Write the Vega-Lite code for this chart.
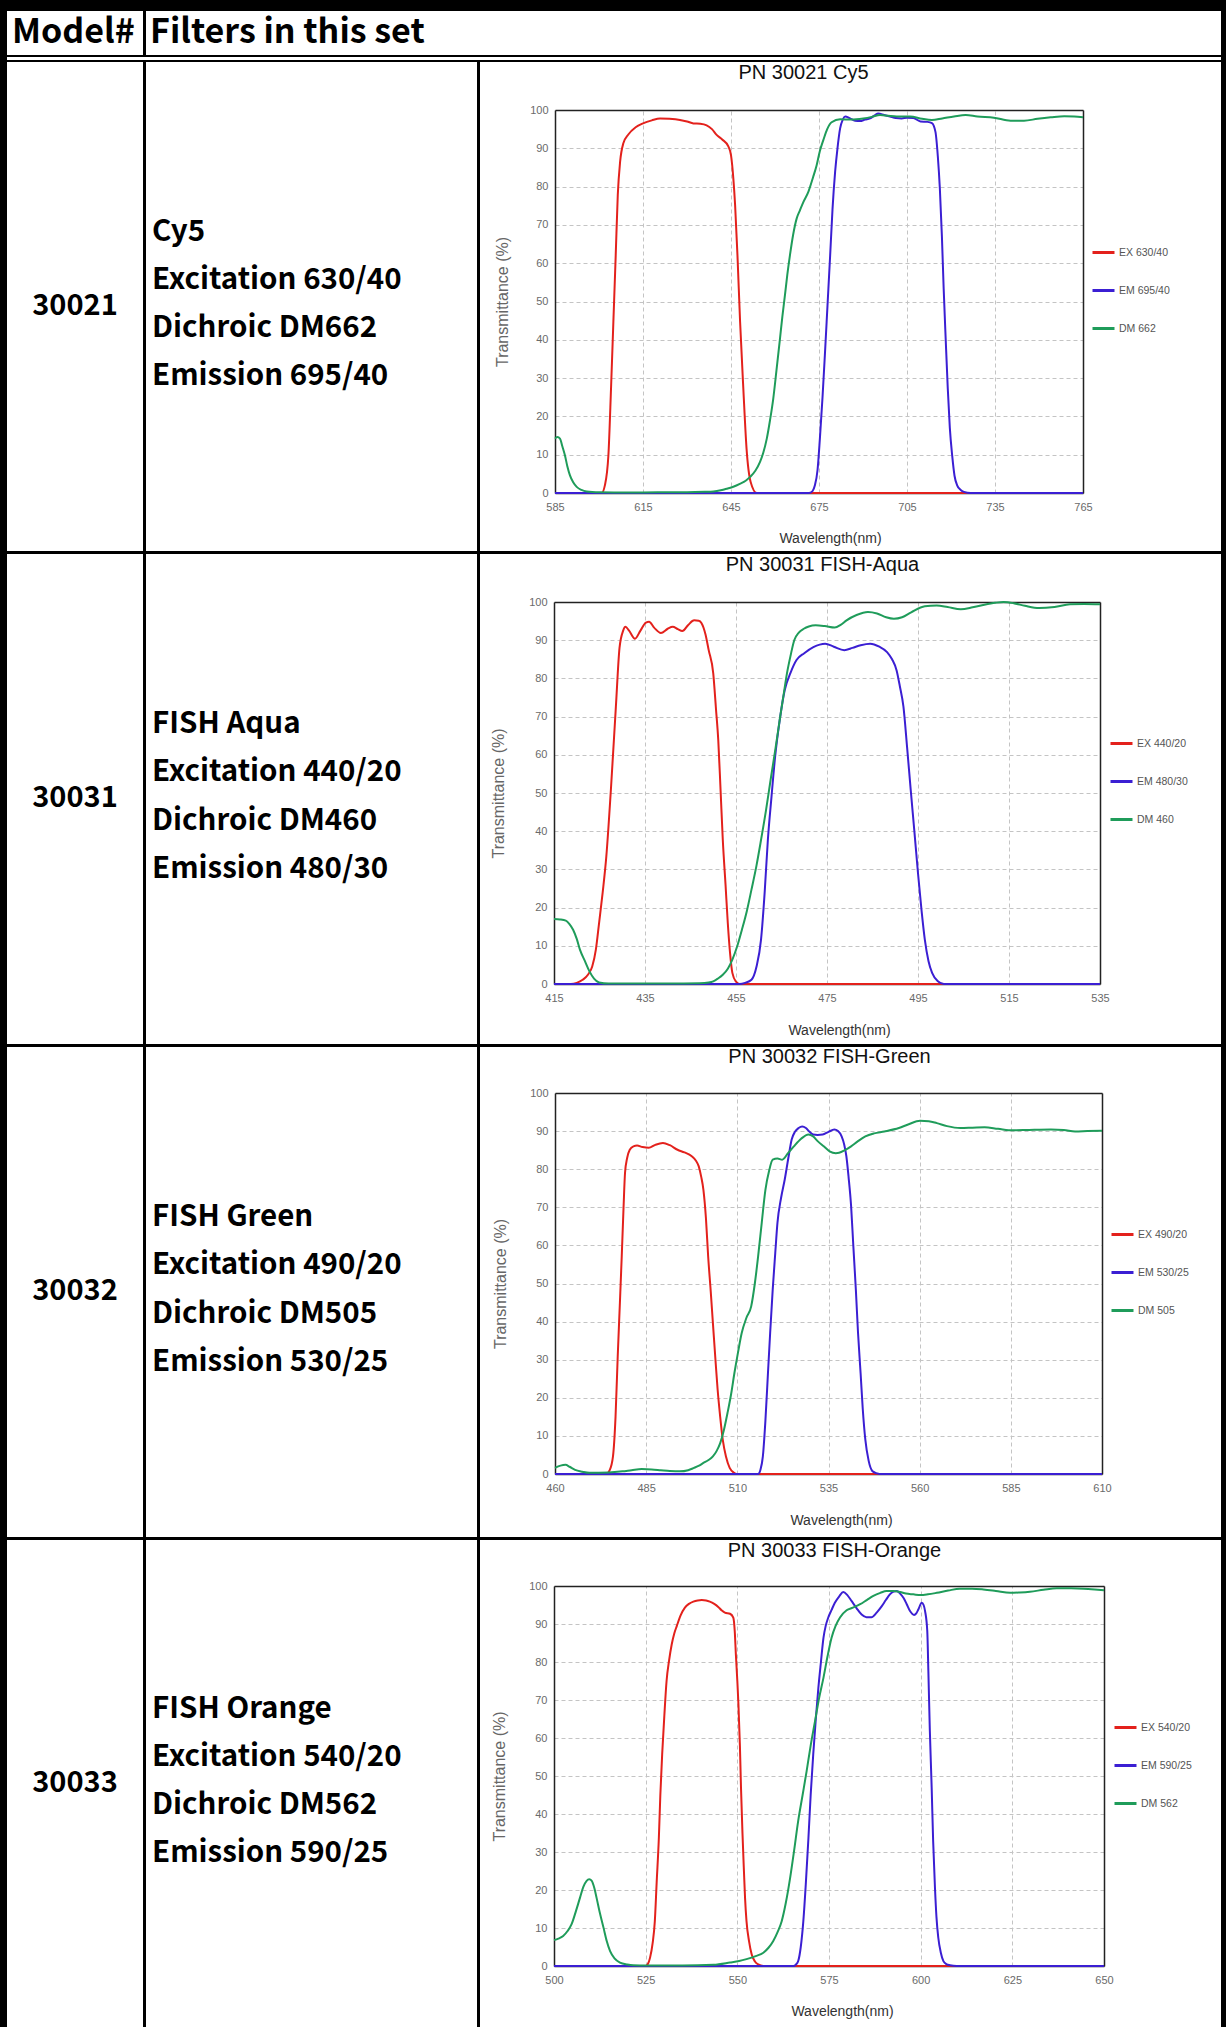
{
"$schema": "https://vega.github.io/schema/vega-lite/v6.json",
"background": "black",
"padding": {"left": 7, "top": 11, "right": 5, "bottom": 0},
"config": {
  "font": "Liberation Sans",
  "view": {"stroke": null},
  "axis": {"domainColor": "#222", "domainWidth": 1.5, "ticks": false, "tickSize": 0, "labelFont": "Liberation Sans", "labelFontSize": 11, "labelColor": "#6a6a6a", "gridColor": "#c4c4c4", "gridDash": [4, 3], "gridWidth": 1, "titleFont": "Liberation Sans", "titleFontWeight": "normal", "labelFlush": false, "labelOverlap": false},
  "title": {"font": "Liberation Sans", "fontSize": 20, "fontWeight": "normal", "color": "#111", "anchor": "middle", "frame": "group", "baseline": "middle"},
  "legend": {"orient": "none", "title": null, "symbolType": "stroke", "symbolSize": 484, "symbolStrokeWidth": 3, "labelFont": "Liberation Sans", "labelFontSize": 10.5, "labelColor": "#555", "labelOffset": 3, "rowPadding": 19, "padding": 0}
},
"datasets": {
"c1": [
{"s":"EX 630/40","wl":585,"t":0},{"s":"EX 630/40","wl":600.9,"t":0},{"s":"EX 630/40","wl":602,"t":2},{"s":"EX 630/40","wl":603.2,"t":9.8},{"s":"EX 630/40","wl":604.1,"t":27.3},{"s":"EX 630/40","wl":604.9,"t":44.7},{"s":"EX 630/40","wl":605.7,"t":62.1},{"s":"EX 630/40","wl":606.4,"t":77.8},{"s":"EX 630/40","wl":607.2,"t":86.5},{"s":"EX 630/40","wl":608.3,"t":91.3},{"s":"EX 630/40","wl":610,"t":93.6},{"s":"EX 630/40","wl":612.5,"t":95.5},{"s":"EX 630/40","wl":615,"t":96.5},{"s":"EX 630/40","wl":618,"t":97.3},{"s":"EX 630/40","wl":620.8,"t":97.8},{"s":"EX 630/40","wl":624,"t":97.7},{"s":"EX 630/40","wl":627.6,"t":97.4},{"s":"EX 630/40","wl":630,"t":97},{"s":"EX 630/40","wl":632.2,"t":96.5},{"s":"EX 630/40","wl":634.5,"t":96.4},{"s":"EX 630/40","wl":636.7,"t":96},{"s":"EX 630/40","wl":638.5,"t":95},{"s":"EX 630/40","wl":640.1,"t":93.5},{"s":"EX 630/40","wl":642,"t":92.3},{"s":"EX 630/40","wl":644.1,"t":90.5},{"s":"EX 630/40","wl":645,"t":88.2},{"s":"EX 630/40","wl":645.8,"t":82.1},{"s":"EX 630/40","wl":646.4,"t":75.2},{"s":"EX 630/40","wl":647.2,"t":62.1},{"s":"EX 630/40","wl":648.1,"t":44.7},{"s":"EX 630/40","wl":649.2,"t":27.3},{"s":"EX 630/40","wl":650.3,"t":11.6},{"s":"EX 630/40","wl":651.7,"t":2.9},{"s":"EX 630/40","wl":653.8,"t":0},{"s":"EX 630/40","wl":765,"t":0},
{"s":"EM 695/40","wl":585,"t":0},{"s":"EM 695/40","wl":671.5,"t":0},{"s":"EM 695/40","wl":672.8,"t":0.5},{"s":"EM 695/40","wl":673.6,"t":2},{"s":"EM 695/40","wl":674.5,"t":6},{"s":"EM 695/40","wl":675.3,"t":14.2},{"s":"EM 695/40","wl":676.2,"t":25},{"s":"EM 695/40","wl":677,"t":36},{"s":"EM 695/40","wl":677.9,"t":49},{"s":"EM 695/40","wl":678.8,"t":62},{"s":"EM 695/40","wl":679.6,"t":74},{"s":"EM 695/40","wl":680.5,"t":83.9},{"s":"EM 695/40","wl":681.3,"t":90},{"s":"EM 695/40","wl":682.2,"t":95.2},{"s":"EM 695/40","wl":683.1,"t":97.5},{"s":"EM 695/40","wl":683.9,"t":98.3},{"s":"EM 695/40","wl":685.6,"t":97.8},{"s":"EM 695/40","wl":687.3,"t":97.2},{"s":"EM 695/40","wl":689,"t":97.1},{"s":"EM 695/40","wl":690.7,"t":97.5},{"s":"EM 695/40","wl":692.4,"t":97.8},{"s":"EM 695/40","wl":694,"t":98.6},{"s":"EM 695/40","wl":695.2,"t":99.1},{"s":"EM 695/40","wl":697.2,"t":98.7},{"s":"EM 695/40","wl":699.2,"t":98.3},{"s":"EM 695/40","wl":701.2,"t":97.9},{"s":"EM 695/40","wl":703.2,"t":97.8},{"s":"EM 695/40","wl":705,"t":98},{"s":"EM 695/40","wl":707.2,"t":97.9},{"s":"EM 695/40","wl":709.6,"t":97},{"s":"EM 695/40","wl":712,"t":96.9},{"s":"EM 695/40","wl":713.5,"t":96.6},{"s":"EM 695/40","wl":714.7,"t":94.3},{"s":"EM 695/40","wl":715.5,"t":88},{"s":"EM 695/40","wl":716.2,"t":79.5},{"s":"EM 695/40","wl":716.9,"t":67},{"s":"EM 695/40","wl":717.5,"t":53.4},{"s":"EM 695/40","wl":718.2,"t":40},{"s":"EM 695/40","wl":718.9,"t":27.3},{"s":"EM 695/40","wl":719.6,"t":17},{"s":"EM 695/40","wl":720.4,"t":9.8},{"s":"EM 695/40","wl":721.2,"t":4.5},{"s":"EM 695/40","wl":722.1,"t":2},{"s":"EM 695/40","wl":723.3,"t":0.8},{"s":"EM 695/40","wl":724.4,"t":0.3},{"s":"EM 695/40","wl":726.7,"t":0},{"s":"EM 695/40","wl":765,"t":0},
{"s":"DM 662","wl":585,"t":14.2},{"s":"DM 662","wl":585.8,"t":14.6},{"s":"DM 662","wl":586.7,"t":14.2},{"s":"DM 662","wl":587.5,"t":12.2},{"s":"DM 662","wl":588.4,"t":9.8},{"s":"DM 662","wl":589.2,"t":7},{"s":"DM 662","wl":590.1,"t":4.6},{"s":"DM 662","wl":591.2,"t":2.8},{"s":"DM 662","wl":592.4,"t":1.6},{"s":"DM 662","wl":594,"t":0.8},{"s":"DM 662","wl":595.8,"t":0.4},{"s":"DM 662","wl":600.3,"t":0.2},{"s":"DM 662","wl":610,"t":0.1},{"s":"DM 662","wl":620,"t":0.2},{"s":"DM 662","wl":630,"t":0.2},{"s":"DM 662","wl":636,"t":0.3},{"s":"DM 662","wl":639,"t":0.4},{"s":"DM 662","wl":641.5,"t":0.7},{"s":"DM 662","wl":643.5,"t":1.1},{"s":"DM 662","wl":646,"t":1.7},{"s":"DM 662","wl":648,"t":2.4},{"s":"DM 662","wl":650,"t":3.2},{"s":"DM 662","wl":651.5,"t":4.2},{"s":"DM 662","wl":653.3,"t":5.8},{"s":"DM 662","wl":654.9,"t":8.1},{"s":"DM 662","wl":656,"t":10.5},{"s":"DM 662","wl":657.2,"t":14.2},{"s":"DM 662","wl":658.3,"t":19},{"s":"DM 662","wl":659.4,"t":24.6},{"s":"DM 662","wl":660.5,"t":32},{"s":"DM 662","wl":661.7,"t":40.3},{"s":"DM 662","wl":662.5,"t":46},{"s":"DM 662","wl":663.4,"t":51.7},{"s":"DM 662","wl":664.2,"t":57},{"s":"DM 662","wl":665.1,"t":62.1},{"s":"DM 662","wl":666.2,"t":67.5},{"s":"DM 662","wl":667.4,"t":71.7},{"s":"DM 662","wl":668.5,"t":73.8},{"s":"DM 662","wl":669.7,"t":76},{"s":"DM 662","wl":671.4,"t":78.7},{"s":"DM 662","wl":673,"t":82.5},{"s":"DM 662","wl":674.2,"t":85.6},{"s":"DM 662","wl":675.3,"t":89.3},{"s":"DM 662","wl":676.5,"t":92.2},{"s":"DM 662","wl":677.8,"t":95},{"s":"DM 662","wl":679.3,"t":96.8},{"s":"DM 662","wl":682.2,"t":97.6},{"s":"DM 662","wl":686,"t":97.5},{"s":"DM 662","wl":690.1,"t":97.8},{"s":"DM 662","wl":693,"t":98.2},{"s":"DM 662","wl":695.8,"t":98.7},{"s":"DM 662","wl":698.5,"t":98.5},{"s":"DM 662","wl":701.5,"t":98.3},{"s":"DM 662","wl":706.1,"t":98.3},{"s":"DM 662","wl":710.1,"t":97.7},{"s":"DM 662","wl":713.5,"t":97.4},{"s":"DM 662","wl":717,"t":97.8},{"s":"DM 662","wl":721,"t":98.3},{"s":"DM 662","wl":725,"t":98.7},{"s":"DM 662","wl":729,"t":98.3},{"s":"DM 662","wl":734.6,"t":98},{"s":"DM 662","wl":740.3,"t":97.2},{"s":"DM 662","wl":744.9,"t":97.2},{"s":"DM 662","wl":749.5,"t":97.7},{"s":"DM 662","wl":754,"t":98.1},{"s":"DM 662","wl":758.6,"t":98.4},{"s":"DM 662","wl":762,"t":98.3},{"s":"DM 662","wl":765,"t":98.1}
],
"c2": [
{"s":"EX 440/20","wl":415,"t":0},{"s":"EX 440/20","wl":418.7,"t":0},{"s":"EX 440/20","wl":420,"t":0.3},{"s":"EX 440/20","wl":421.3,"t":1.1},{"s":"EX 440/20","wl":422.5,"t":2.5},{"s":"EX 440/20","wl":423.4,"t":4.6},{"s":"EX 440/20","wl":424.2,"t":9},{"s":"EX 440/20","wl":424.9,"t":15.9},{"s":"EX 440/20","wl":425.7,"t":24},{"s":"EX 440/20","wl":426.5,"t":33.4},{"s":"EX 440/20","wl":427.5,"t":50.8},{"s":"EX 440/20","wl":428.6,"t":72.6},{"s":"EX 440/20","wl":429.4,"t":88},{"s":"EX 440/20","wl":430.2,"t":92.5},{"s":"EX 440/20","wl":430.7,"t":93.5},{"s":"EX 440/20","wl":431.5,"t":92.5},{"s":"EX 440/20","wl":432.8,"t":90.4},{"s":"EX 440/20","wl":434,"t":92.5},{"s":"EX 440/20","wl":435.2,"t":94.6},{"s":"EX 440/20","wl":435.9,"t":94.8},{"s":"EX 440/20","wl":437,"t":93.3},{"s":"EX 440/20","wl":438.5,"t":91.9},{"s":"EX 440/20","wl":440,"t":93},{"s":"EX 440/20","wl":441.1,"t":93.5},{"s":"EX 440/20","wl":442.2,"t":92.9},{"s":"EX 440/20","wl":443.2,"t":92.4},{"s":"EX 440/20","wl":444.5,"t":94},{"s":"EX 440/20","wl":445.8,"t":95.2},{"s":"EX 440/20","wl":446.8,"t":95.1},{"s":"EX 440/20","wl":447.4,"t":94.5},{"s":"EX 440/20","wl":448.3,"t":91.5},{"s":"EX 440/20","wl":449,"t":87.4},{"s":"EX 440/20","wl":450,"t":81.3},{"s":"EX 440/20","wl":450.6,"t":72},{"s":"EX 440/20","wl":451.1,"t":63.9},{"s":"EX 440/20","wl":451.6,"t":51},{"s":"EX 440/20","wl":452.1,"t":37.7},{"s":"EX 440/20","wl":452.7,"t":26},{"s":"EX 440/20","wl":453.2,"t":15.9},{"s":"EX 440/20","wl":453.7,"t":8},{"s":"EX 440/20","wl":454.2,"t":2.9},{"s":"EX 440/20","wl":455,"t":0.6},{"s":"EX 440/20","wl":455.8,"t":0},{"s":"EX 440/20","wl":535,"t":0},
{"s":"EM 480/30","wl":415,"t":0},{"s":"EM 480/30","wl":455.8,"t":0},{"s":"EM 480/30","wl":457,"t":0.3},{"s":"EM 480/30","wl":458.4,"t":1.1},{"s":"EM 480/30","wl":459.5,"t":4.5},{"s":"EM 480/30","wl":460.5,"t":11.6},{"s":"EM 480/30","wl":461.3,"t":24},{"s":"EM 480/30","wl":462,"t":37.7},{"s":"EM 480/30","wl":462.8,"t":49},{"s":"EM 480/30","wl":463.6,"t":59.5},{"s":"EM 480/30","wl":464.6,"t":69},{"s":"EM 480/30","wl":465.7,"t":76.9},{"s":"EM 480/30","wl":467,"t":81.5},{"s":"EM 480/30","wl":468.3,"t":84.8},{"s":"EM 480/30","wl":470,"t":86.6},{"s":"EM 480/30","wl":472,"t":88.2},{"s":"EM 480/30","wl":474.6,"t":89.1},{"s":"EM 480/30","wl":476.5,"t":88.3},{"s":"EM 480/30","wl":478.8,"t":87.4},{"s":"EM 480/30","wl":480.6,"t":88},{"s":"EM 480/30","wl":482.4,"t":88.7},{"s":"EM 480/30","wl":484.5,"t":89.1},{"s":"EM 480/30","wl":486.5,"t":88.3},{"s":"EM 480/30","wl":488.2,"t":86.9},{"s":"EM 480/30","wl":489.3,"t":85},{"s":"EM 480/30","wl":490.3,"t":82.1},{"s":"EM 480/30","wl":491,"t":78},{"s":"EM 480/30","wl":491.8,"t":72.6},{"s":"EM 480/30","wl":492.6,"t":62},{"s":"EM 480/30","wl":493.4,"t":50.8},{"s":"EM 480/30","wl":494.2,"t":40},{"s":"EM 480/30","wl":495,"t":29},{"s":"EM 480/30","wl":495.8,"t":19},{"s":"EM 480/30","wl":496.5,"t":11.6},{"s":"EM 480/30","wl":497.3,"t":6},{"s":"EM 480/30","wl":498.1,"t":2.9},{"s":"EM 480/30","wl":499.3,"t":0.8},{"s":"EM 480/30","wl":500.7,"t":0},{"s":"EM 480/30","wl":535,"t":0},
{"s":"DM 460","wl":415,"t":17},{"s":"DM 460","wl":416.3,"t":16.9},{"s":"DM 460","wl":417.6,"t":16.6},{"s":"DM 460","wl":418.4,"t":15.7},{"s":"DM 460","wl":419.2,"t":14.2},{"s":"DM 460","wl":420,"t":11.8},{"s":"DM 460","wl":420.7,"t":9},{"s":"DM 460","wl":421.8,"t":6},{"s":"DM 460","wl":422.8,"t":3.3},{"s":"DM 460","wl":423.8,"t":1.4},{"s":"DM 460","wl":424.9,"t":0.4},{"s":"DM 460","wl":427,"t":0.1},{"s":"DM 460","wl":440,"t":0.1},{"s":"DM 460","wl":447,"t":0.2},{"s":"DM 460","wl":449,"t":0.4},{"s":"DM 460","wl":450,"t":0.7},{"s":"DM 460","wl":451,"t":1.4},{"s":"DM 460","wl":452.1,"t":2.4},{"s":"DM 460","wl":453.2,"t":4},{"s":"DM 460","wl":454.2,"t":6.4},{"s":"DM 460","wl":455.3,"t":10},{"s":"DM 460","wl":456.3,"t":14.2},{"s":"DM 460","wl":457.4,"t":19.2},{"s":"DM 460","wl":458.4,"t":24.7},{"s":"DM 460","wl":459.5,"t":31},{"s":"DM 460","wl":460.5,"t":37.7},{"s":"DM 460","wl":461.6,"t":45.5},{"s":"DM 460","wl":462.6,"t":53.4},{"s":"DM 460","wl":463.7,"t":61.8},{"s":"DM 460","wl":464.7,"t":69.9},{"s":"DM 460","wl":465.5,"t":76},{"s":"DM 460","wl":466.2,"t":81.3},{"s":"DM 460","wl":467,"t":86},{"s":"DM 460","wl":467.8,"t":90},{"s":"DM 460","wl":468.8,"t":92},{"s":"DM 460","wl":469.9,"t":93},{"s":"DM 460","wl":471,"t":93.6},{"s":"DM 460","wl":472.5,"t":93.9},{"s":"DM 460","wl":474.5,"t":93.7},{"s":"DM 460","wl":476.7,"t":93.3},{"s":"DM 460","wl":478,"t":94},{"s":"DM 460","wl":479.3,"t":95.2},{"s":"DM 460","wl":481.5,"t":96.6},{"s":"DM 460","wl":484,"t":97.4},{"s":"DM 460","wl":486,"t":97},{"s":"DM 460","wl":488,"t":96},{"s":"DM 460","wl":489.7,"t":95.6},{"s":"DM 460","wl":491.5,"t":96},{"s":"DM 460","wl":493.5,"t":97.3},{"s":"DM 460","wl":496.5,"t":98.9},{"s":"DM 460","wl":499.1,"t":99.1},{"s":"DM 460","wl":501.5,"t":98.7},{"s":"DM 460","wl":504.4,"t":98.1},{"s":"DM 460","wl":507,"t":98.6},{"s":"DM 460","wl":509.6,"t":99.3},{"s":"DM 460","wl":512,"t":99.8},{"s":"DM 460","wl":513.8,"t":100},{"s":"DM 460","wl":516,"t":99.7},{"s":"DM 460","wl":518.5,"t":99},{"s":"DM 460","wl":521.6,"t":98.4},{"s":"DM 460","wl":525,"t":98.7},{"s":"DM 460","wl":528.4,"t":99.4},{"s":"DM 460","wl":531.5,"t":99.5},{"s":"DM 460","wl":535,"t":99.4}
],
"c3": [
{"s":"EX 490/20","wl":460,"t":0},{"s":"EX 490/20","wl":474,"t":0},{"s":"EX 490/20","wl":475,"t":1},{"s":"EX 490/20","wl":475.9,"t":4.6},{"s":"EX 490/20","wl":476.6,"t":15},{"s":"EX 490/20","wl":477.2,"t":30.9},{"s":"EX 490/20","wl":477.8,"t":45},{"s":"EX 490/20","wl":478.3,"t":57.1},{"s":"EX 490/20","wl":478.8,"t":70},{"s":"EX 490/20","wl":479.2,"t":79},{"s":"EX 490/20","wl":479.8,"t":83},{"s":"EX 490/20","wl":480.5,"t":85.1},{"s":"EX 490/20","wl":481.5,"t":86},{"s":"EX 490/20","wl":482.5,"t":86.2},{"s":"EX 490/20","wl":484,"t":85.8},{"s":"EX 490/20","wl":485.7,"t":85.6},{"s":"EX 490/20","wl":487.5,"t":86.4},{"s":"EX 490/20","wl":489.6,"t":86.9},{"s":"EX 490/20","wl":491.5,"t":86.3},{"s":"EX 490/20","wl":493.6,"t":85.1},{"s":"EX 490/20","wl":495.5,"t":84.4},{"s":"EX 490/20","wl":497.5,"t":83.4},{"s":"EX 490/20","wl":498.6,"t":82.3},{"s":"EX 490/20","wl":499.4,"t":80.8},{"s":"EX 490/20","wl":500.1,"t":78},{"s":"EX 490/20","wl":500.7,"t":74.6},{"s":"EX 490/20","wl":501.4,"t":67},{"s":"EX 490/20","wl":502,"t":57.1},{"s":"EX 490/20","wl":502.7,"t":48},{"s":"EX 490/20","wl":503.3,"t":39.6},{"s":"EX 490/20","wl":504,"t":30},{"s":"EX 490/20","wl":504.6,"t":22.1},{"s":"EX 490/20","wl":505.3,"t":15},{"s":"EX 490/20","wl":506,"t":9},{"s":"EX 490/20","wl":506.9,"t":4.5},{"s":"EX 490/20","wl":507.9,"t":1.6},{"s":"EX 490/20","wl":509,"t":0.4},{"s":"EX 490/20","wl":509.9,"t":0},{"s":"EX 490/20","wl":610,"t":0},
{"s":"EM 530/25","wl":460,"t":0},{"s":"EM 530/25","wl":515.7,"t":0},{"s":"EM 530/25","wl":516.3,"t":1},{"s":"EM 530/25","wl":517,"t":4.6},{"s":"EM 530/25","wl":517.7,"t":14},{"s":"EM 530/25","wl":518.4,"t":26.5},{"s":"EM 530/25","wl":519,"t":37},{"s":"EM 530/25","wl":519.7,"t":48.4},{"s":"EM 530/25","wl":520.4,"t":58},{"s":"EM 530/25","wl":521,"t":65.9},{"s":"EM 530/25","wl":522,"t":72.5},{"s":"EM 530/25","wl":523,"t":77.3},{"s":"EM 530/25","wl":524,"t":83},{"s":"EM 530/25","wl":524.9,"t":87.8},{"s":"EM 530/25","wl":525.8,"t":89.8},{"s":"EM 530/25","wl":526.8,"t":90.8},{"s":"EM 530/25","wl":527.8,"t":91.2},{"s":"EM 530/25","wl":528.8,"t":90.8},{"s":"EM 530/25","wl":529.8,"t":89.8},{"s":"EM 530/25","wl":530.8,"t":89.1},{"s":"EM 530/25","wl":532,"t":89},{"s":"EM 530/25","wl":533.4,"t":89.1},{"s":"EM 530/25","wl":535,"t":89.8},{"s":"EM 530/25","wl":536.6,"t":90.4},{"s":"EM 530/25","wl":537.6,"t":90},{"s":"EM 530/25","wl":538.6,"t":88.6},{"s":"EM 530/25","wl":539.3,"t":86.5},{"s":"EM 530/25","wl":539.9,"t":83.4},{"s":"EM 530/25","wl":540.5,"t":78},{"s":"EM 530/25","wl":541.2,"t":70.3},{"s":"EM 530/25","wl":541.8,"t":60},{"s":"EM 530/25","wl":542.5,"t":48.4},{"s":"EM 530/25","wl":543.1,"t":37},{"s":"EM 530/25","wl":543.8,"t":26.5},{"s":"EM 530/25","wl":544.4,"t":17},{"s":"EM 530/25","wl":545.1,"t":9},{"s":"EM 530/25","wl":546,"t":3.5},{"s":"EM 530/25","wl":547.1,"t":0.7},{"s":"EM 530/25","wl":549,"t":0},{"s":"EM 530/25","wl":610,"t":0},
{"s":"DM 505","wl":460,"t":1.6},{"s":"DM 505","wl":461.5,"t":2.2},{"s":"DM 505","wl":462.9,"t":2.4},{"s":"DM 505","wl":464,"t":1.9},{"s":"DM 505","wl":465.5,"t":1.1},{"s":"DM 505","wl":467.5,"t":0.6},{"s":"DM 505","wl":469.4,"t":0.3},{"s":"DM 505","wl":474.6,"t":0.4},{"s":"DM 505","wl":478.5,"t":0.7},{"s":"DM 505","wl":481,"t":1},{"s":"DM 505","wl":483.8,"t":1.3},{"s":"DM 505","wl":486.5,"t":1.2},{"s":"DM 505","wl":489,"t":1},{"s":"DM 505","wl":491.5,"t":0.8},{"s":"DM 505","wl":494.2,"t":0.7},{"s":"DM 505","wl":496.5,"t":1},{"s":"DM 505","wl":498.1,"t":1.6},{"s":"DM 505","wl":499.5,"t":2.2},{"s":"DM 505","wl":500.7,"t":2.9},{"s":"DM 505","wl":502,"t":3.6},{"s":"DM 505","wl":503.3,"t":4.6},{"s":"DM 505","wl":504.3,"t":6},{"s":"DM 505","wl":505.3,"t":8.1},{"s":"DM 505","wl":506.3,"t":11.5},{"s":"DM 505","wl":507.3,"t":16},{"s":"DM 505","wl":508.3,"t":21},{"s":"DM 505","wl":509.2,"t":26.5},{"s":"DM 505","wl":510.2,"t":32},{"s":"DM 505","wl":511.2,"t":37},{"s":"DM 505","wl":512.5,"t":41},{"s":"DM 505","wl":513.8,"t":44},{"s":"DM 505","wl":514.8,"t":50},{"s":"DM 505","wl":515.7,"t":57.1},{"s":"DM 505","wl":516.7,"t":66},{"s":"DM 505","wl":517.7,"t":74.6},{"s":"DM 505","wl":518.7,"t":79.5},{"s":"DM 505","wl":519.7,"t":82.5},{"s":"DM 505","wl":521,"t":82.8},{"s":"DM 505","wl":522.3,"t":82.5},{"s":"DM 505","wl":523.9,"t":84.2},{"s":"DM 505","wl":525.5,"t":86},{"s":"DM 505","wl":527.5,"t":88},{"s":"DM 505","wl":529.5,"t":89.1},{"s":"DM 505","wl":530.8,"t":88.6},{"s":"DM 505","wl":532.1,"t":87.3},{"s":"DM 505","wl":533.7,"t":86},{"s":"DM 505","wl":535.3,"t":84.7},{"s":"DM 505","wl":537,"t":84.2},{"s":"DM 505","wl":537.9,"t":84.3},{"s":"DM 505","wl":539.5,"t":85},{"s":"DM 505","wl":541.2,"t":86},{"s":"DM 505","wl":543,"t":87.3},{"s":"DM 505","wl":545.1,"t":88.6},{"s":"DM 505","wl":547.5,"t":89.4},{"s":"DM 505","wl":550.3,"t":89.9},{"s":"DM 505","wl":554.3,"t":90.8},{"s":"DM 505","wl":557,"t":91.8},{"s":"DM 505","wl":560.1,"t":92.7},{"s":"DM 505","wl":562.5,"t":92.6},{"s":"DM 505","wl":564.7,"t":92.1},{"s":"DM 505","wl":567.5,"t":91.3},{"s":"DM 505","wl":571.2,"t":90.8},{"s":"DM 505","wl":574.5,"t":90.9},{"s":"DM 505","wl":577.8,"t":91},{"s":"DM 505","wl":581.5,"t":90.6},{"s":"DM 505","wl":585.6,"t":90.2},{"s":"DM 505","wl":590,"t":90.3},{"s":"DM 505","wl":596,"t":90.4},{"s":"DM 505","wl":599.5,"t":90.3},{"s":"DM 505","wl":602.6,"t":89.9},{"s":"DM 505","wl":606,"t":90},{"s":"DM 505","wl":610,"t":90.1}
],
"c4": [
{"s":"EX 540/20","wl":500,"t":0},{"s":"EX 540/20","wl":525,"t":0},{"s":"EX 540/20","wl":525.6,"t":0.5},{"s":"EX 540/20","wl":526.2,"t":2.2},{"s":"EX 540/20","wl":526.9,"t":6},{"s":"EX 540/20","wl":527.5,"t":11.8},{"s":"EX 540/20","wl":528,"t":22},{"s":"EX 540/20","wl":528.6,"t":33.8},{"s":"EX 540/20","wl":529,"t":45},{"s":"EX 540/20","wl":529.5,"t":55.7},{"s":"EX 540/20","wl":530.1,"t":66},{"s":"EX 540/20","wl":530.7,"t":75},{"s":"EX 540/20","wl":531.4,"t":80.5},{"s":"EX 540/20","wl":532.1,"t":84.6},{"s":"EX 540/20","wl":532.8,"t":87.5},{"s":"EX 540/20","wl":533.5,"t":89.5},{"s":"EX 540/20","wl":534.5,"t":92.2},{"s":"EX 540/20","wl":535.7,"t":94.3},{"s":"EX 540/20","wl":536.8,"t":95.3},{"s":"EX 540/20","wl":538,"t":95.9},{"s":"EX 540/20","wl":539.2,"t":96.2},{"s":"EX 540/20","wl":540.3,"t":96.3},{"s":"EX 540/20","wl":541.5,"t":96.2},{"s":"EX 540/20","wl":542.5,"t":95.9},{"s":"EX 540/20","wl":543.7,"t":95.3},{"s":"EX 540/20","wl":544.8,"t":94.5},{"s":"EX 540/20","wl":545.7,"t":93.6},{"s":"EX 540/20","wl":546.6,"t":93},{"s":"EX 540/20","wl":548,"t":92.7},{"s":"EX 540/20","wl":548.9,"t":91.7},{"s":"EX 540/20","wl":549.3,"t":88},{"s":"EX 540/20","wl":549.6,"t":82},{"s":"EX 540/20","wl":550,"t":75},{"s":"EX 540/20","wl":550.3,"t":68.9},{"s":"EX 540/20","wl":550.7,"t":58},{"s":"EX 540/20","wl":551,"t":46.9},{"s":"EX 540/20","wl":551.4,"t":35},{"s":"EX 540/20","wl":551.8,"t":25},{"s":"EX 540/20","wl":552.1,"t":18},{"s":"EX 540/20","wl":552.5,"t":11.8},{"s":"EX 540/20","wl":553.2,"t":6.5},{"s":"EX 540/20","wl":553.9,"t":3.1},{"s":"EX 540/20","wl":554.8,"t":1.2},{"s":"EX 540/20","wl":555.7,"t":0.4},{"s":"EX 540/20","wl":557.1,"t":0},{"s":"EX 540/20","wl":650,"t":0},
{"s":"EM 590/25","wl":500,"t":0},{"s":"EM 590/25","wl":565.3,"t":0},{"s":"EM 590/25","wl":566,"t":0.4},{"s":"EM 590/25","wl":566.6,"t":1.3},{"s":"EM 590/25","wl":567.3,"t":5},{"s":"EM 590/25","wl":568,"t":11.8},{"s":"EM 590/25","wl":568.7,"t":22},{"s":"EM 590/25","wl":569.4,"t":33.8},{"s":"EM 590/25","wl":570,"t":45},{"s":"EM 590/25","wl":570.7,"t":55.7},{"s":"EM 590/25","wl":571.4,"t":65},{"s":"EM 590/25","wl":572.1,"t":73.2},{"s":"EM 590/25","wl":572.8,"t":80},{"s":"EM 590/25","wl":573.5,"t":86.4},{"s":"EM 590/25","wl":574.1,"t":89.5},{"s":"EM 590/25","wl":574.8,"t":91.7},{"s":"EM 590/25","wl":575.7,"t":93.7},{"s":"EM 590/25","wl":576.6,"t":95.6},{"s":"EM 590/25","wl":577.8,"t":97.3},{"s":"EM 590/25","wl":578.9,"t":98.4},{"s":"EM 590/25","wl":580,"t":97.6},{"s":"EM 590/25","wl":581.2,"t":96},{"s":"EM 590/25","wl":582.5,"t":94.2},{"s":"EM 590/25","wl":583.9,"t":92.5},{"s":"EM 590/25","wl":585.2,"t":91.8},{"s":"EM 590/25","wl":586.6,"t":91.8},{"s":"EM 590/25","wl":588,"t":93},{"s":"EM 590/25","wl":589.4,"t":94.7},{"s":"EM 590/25","wl":590.5,"t":96.3},{"s":"EM 590/25","wl":591.6,"t":97.8},{"s":"EM 590/25","wl":592.6,"t":98.5},{"s":"EM 590/25","wl":593.5,"t":98.7},{"s":"EM 590/25","wl":594.4,"t":98},{"s":"EM 590/25","wl":595.3,"t":96.9},{"s":"EM 590/25","wl":596.2,"t":95.2},{"s":"EM 590/25","wl":597.1,"t":93.4},{"s":"EM 590/25","wl":598.2,"t":92.4},{"s":"EM 590/25","wl":598.8,"t":92.8},{"s":"EM 590/25","wl":599.4,"t":93.9},{"s":"EM 590/25","wl":600.3,"t":95.6},{"s":"EM 590/25","wl":600.8,"t":95},{"s":"EM 590/25","wl":601.2,"t":93.4},{"s":"EM 590/25","wl":601.8,"t":88.2},{"s":"EM 590/25","wl":602.1,"t":77.6},{"s":"EM 590/25","wl":602.5,"t":62},{"s":"EM 590/25","wl":603,"t":47},{"s":"EM 590/25","wl":603.4,"t":33},{"s":"EM 590/25","wl":603.9,"t":20.6},{"s":"EM 590/25","wl":604.3,"t":13},{"s":"EM 590/25","wl":604.8,"t":7.5},{"s":"EM 590/25","wl":605.5,"t":3.5},{"s":"EM 590/25","wl":606.2,"t":1.3},{"s":"EM 590/25","wl":607,"t":0.5},{"s":"EM 590/25","wl":608,"t":0.2},{"s":"EM 590/25","wl":609.8,"t":0},{"s":"EM 590/25","wl":650,"t":0},
{"s":"DM 562","wl":500,"t":6.8},{"s":"DM 562","wl":501.2,"t":7.2},{"s":"DM 562","wl":502.5,"t":7.9},{"s":"DM 562","wl":503.7,"t":9.2},{"s":"DM 562","wl":504.8,"t":11},{"s":"DM 562","wl":506,"t":14.5},{"s":"DM 562","wl":507.1,"t":18},{"s":"DM 562","wl":508,"t":20.8},{"s":"DM 562","wl":508.9,"t":22.4},{"s":"DM 562","wl":509.6,"t":22.8},{"s":"DM 562","wl":510.3,"t":22.4},{"s":"DM 562","wl":511,"t":20.5},{"s":"DM 562","wl":511.6,"t":18},{"s":"DM 562","wl":512.5,"t":14},{"s":"DM 562","wl":513.5,"t":10.1},{"s":"DM 562","wl":514.4,"t":6.5},{"s":"DM 562","wl":515.3,"t":3.9},{"s":"DM 562","wl":516.5,"t":2},{"s":"DM 562","wl":518,"t":0.9},{"s":"DM 562","wl":520,"t":0.4},{"s":"DM 562","wl":521.6,"t":0.2},{"s":"DM 562","wl":525.3,"t":0.1},{"s":"DM 562","wl":535,"t":0.1},{"s":"DM 562","wl":543.5,"t":0.3},{"s":"DM 562","wl":548,"t":0.9},{"s":"DM 562","wl":550.5,"t":1.3},{"s":"DM 562","wl":552.5,"t":1.8},{"s":"DM 562","wl":555,"t":2.6},{"s":"DM 562","wl":557.1,"t":3.5},{"s":"DM 562","wl":558.5,"t":4.8},{"s":"DM 562","wl":559.8,"t":6.6},{"s":"DM 562","wl":561,"t":9},{"s":"DM 562","wl":562.1,"t":11.8},{"s":"DM 562","wl":563.2,"t":16.5},{"s":"DM 562","wl":564.4,"t":23.2},{"s":"DM 562","wl":565.5,"t":30.5},{"s":"DM 562","wl":566.6,"t":38.2},{"s":"DM 562","wl":567.8,"t":45},{"s":"DM 562","wl":568.9,"t":51.3},{"s":"DM 562","wl":570,"t":58},{"s":"DM 562","wl":571.2,"t":64.5},{"s":"DM 562","wl":572.3,"t":70.5},{"s":"DM 562","wl":573.5,"t":75.9},{"s":"DM 562","wl":574.6,"t":81.5},{"s":"DM 562","wl":575.7,"t":86.4},{"s":"DM 562","wl":576.8,"t":89.5},{"s":"DM 562","wl":578,"t":91.7},{"s":"DM 562","wl":579.8,"t":93.6},{"s":"DM 562","wl":581.5,"t":94.3},{"s":"DM 562","wl":583.5,"t":95.2},{"s":"DM 562","wl":585.3,"t":96.3},{"s":"DM 562","wl":587.1,"t":97.4},{"s":"DM 562","wl":589,"t":98.2},{"s":"DM 562","wl":590.7,"t":98.7},{"s":"DM 562","wl":592.5,"t":98.7},{"s":"DM 562","wl":594.4,"t":98.4},{"s":"DM 562","wl":596,"t":98},{"s":"DM 562","wl":598,"t":97.8},{"s":"DM 562","wl":600,"t":97.6},{"s":"DM 562","wl":602,"t":97.8},{"s":"DM 562","wl":604.4,"t":98.2},{"s":"DM 562","wl":607.5,"t":98.8},{"s":"DM 562","wl":610.7,"t":99.3},{"s":"DM 562","wl":614,"t":99.3},{"s":"DM 562","wl":617.1,"t":99.1},{"s":"DM 562","wl":620.5,"t":98.7},{"s":"DM 562","wl":624.4,"t":98.2},{"s":"DM 562","wl":627,"t":98.3},{"s":"DM 562","wl":629.8,"t":98.5},{"s":"DM 562","wl":633.5,"t":99},{"s":"DM 562","wl":637.1,"t":99.4},{"s":"DM 562","wl":641,"t":99.4},{"s":"DM 562","wl":644.4,"t":99.3},{"s":"DM 562","wl":647.5,"t":99.1},{"s":"DM 562","wl":650,"t":98.9}
]
},
"spacing": 2,
"resolve": {"scale": {"color": "independent"}, "legend": {"color": "independent"}},
"vconcat": [
{
  "hconcat": [
    {"width": 136, "height": 44, "view": {"fill": "white", "stroke": null}, "data": {"values": [{"k": "a", "h": "Model#"}]}, "mark": {"type": "text", "font": "Noto Sans CJK JP", "fontWeight": "bold", "fontSize": 34, "align": "left", "baseline": "middle", "x": 0, "dx": 5, "color": "black"}, "encoding": {"y": {"field": "k", "type": "nominal", "axis": null}, "text": {"field": "h"}}},
    {"width": 1075, "height": 44, "view": {"fill": "white", "stroke": null}, "data": {"values": [{"k": "a", "h": "Filters in this set"}]}, "mark": {"type": "text", "font": "Noto Sans CJK JP", "fontWeight": "bold", "fontSize": 34, "align": "left", "baseline": "middle", "x": 0, "dx": 4, "color": "black"}, "encoding": {"y": {"field": "k", "type": "nominal", "axis": null}, "text": {"field": "h"}}}
  ],
  "spacing": 3, "bounds": "flush"
},
{"width": 1214, "height": 3, "view": {"fill": "white", "stroke": null}, "data": {"values": [{"h": ""}]}, "mark": {"type": "text", "fontSize": 1, "baseline": "top", "x": 0, "y": 0}, "encoding": {"text": {"field": "h"}}},
{
  "vconcat": [
    {
      "hconcat": [
        {"width": 136, "height": 489, "view": {"fill": "white", "stroke": null}, "data": {"values": [{"k": "a", "m": "30021"}]}, "mark": {"type": "text", "font": "Noto Sans CJK JP", "fontWeight": "bold", "fontSize": 29, "align": "center", "baseline": "middle", "dy": -1, "color": "black"}, "encoding": {"x": {"field": "k", "type": "nominal", "axis": null}, "y": {"field": "k", "type": "nominal", "axis": null}, "text": {"field": "m"}}},
        {"width": 331, "height": 489, "view": {"fill": "white", "stroke": null}, "data": {"values": [{"k": "a", "l": ["Cy5", "Excitation 630/40", "Dichroic DM662", "Emission 695/40"]}]}, "mark": {"type": "text", "font": "Noto Sans CJK JP", "fontWeight": "bold", "fontSize": 29.5, "lineHeight": 48.3, "align": "left", "baseline": "middle", "x": 0, "dx": 6, "dy": -75, "color": "black"}, "encoding": {"y": {"field": "k", "type": "nominal", "axis": null}, "text": {"field": "l"}}},
        {
          "width": 741, "height": 489, "view": {"fill": "white", "stroke": null},
          "title": {"text": "PN 30021 Cy5", "offset": -21, "dx": -47},
          "data": {"name": "c1"},
          "resolve": {"axis": {"x": "independent", "y": "independent"}},
          "layer": [
            {"mark": {"type": "line", "strokeWidth": 2, "interpolate": "monotone"},
             "encoding": {
               "x": {"field": "wl", "type": "quantitative", "scale": {"domain": [585, 765], "range": [75, 603], "nice": false, "zero": false}, "axis": {"orient": "bottom", "offset": -58, "values": [585, 615, 645, 675, 705, 735, 765], "grid": false, "labelPadding": 8, "title": "Wavelength(nm)", "titleFontSize": 14, "titleColor": "#333", "titleX": 350, "titleY": 45, "titleBaseline": "middle", "titleAlign": "center"}},
               "y": {"field": "t", "type": "quantitative", "scale": {"domain": [0, 100], "range": [431, 48], "nice": false, "zero": false}, "axis": {"orient": "left", "offset": -75, "values": [0, 10, 20, 30, 40, 50, 60, 70, 80, 90, 100], "grid": true, "labelPadding": 7, "title": "Transmittance (%)", "titleFontSize": 16, "titleColor": "#666", "titleX": -53, "titleBaseline": "middle"}},
               "color": {"field": "s", "type": "nominal", "scale": {"domain": ["EX 630/40", "EM 695/40", "DM 662"], "range": ["#e3211c", "#3b1fd3", "#1f9c5a"]}, "legend": {"legendX": 611, "legendY": 178}}
             }},
            {"mark": {"type": "point", "opacity": 0},
             "encoding": {
               "x": {"field": "wl", "type": "quantitative", "scale": {"domain": [585, 765], "range": [75, 603], "nice": false, "zero": false}, "axis": {"orient": "top", "offset": -48, "values": [615, 645, 675, 705, 735], "labels": false, "grid": true, "title": null}},
               "y": {"field": "t", "type": "quantitative", "scale": {"domain": [0, 100], "range": [431, 48], "nice": false, "zero": false}, "axis": {"orient": "right", "offset": -138, "labels": false, "grid": false, "title": null}}
             }}
          ]
        }
      ],
      "spacing": 3, "bounds": "flush", "resolve": {"scale": {"color": "independent"}, "legend": {"color": "independent"}}
    },
    {
      "hconcat": [
        {"width": 136, "height": 490, "view": {"fill": "white", "stroke": null}, "data": {"values": [{"k": "a", "m": "30031"}]}, "mark": {"type": "text", "font": "Noto Sans CJK JP", "fontWeight": "bold", "fontSize": 29, "align": "center", "baseline": "middle", "dy": -1, "color": "black"}, "encoding": {"x": {"field": "k", "type": "nominal", "axis": null}, "y": {"field": "k", "type": "nominal", "axis": null}, "text": {"field": "m"}}},
        {"width": 331, "height": 490, "view": {"fill": "white", "stroke": null}, "data": {"values": [{"k": "a", "l": ["FISH Aqua", "Excitation 440/20", "Dichroic DM460", "Emission 480/30"]}]}, "mark": {"type": "text", "font": "Noto Sans CJK JP", "fontWeight": "bold", "fontSize": 29.5, "lineHeight": 48.3, "align": "left", "baseline": "middle", "x": 0, "dx": 6, "dy": -75, "color": "black"}, "encoding": {"y": {"field": "k", "type": "nominal", "axis": null}, "text": {"field": "l"}}},
        {
          "width": 741, "height": 490, "view": {"fill": "white", "stroke": null},
          "title": {"text": "PN 30031 FISH-Aqua", "offset": -21, "dx": -28},
          "data": {"name": "c2"},
          "resolve": {"axis": {"x": "independent", "y": "independent"}},
          "layer": [
            {"mark": {"type": "line", "strokeWidth": 2, "interpolate": "monotone"},
             "encoding": {
               "x": {"field": "wl", "type": "quantitative", "scale": {"domain": [415, 535], "range": [74, 620], "nice": false, "zero": false}, "axis": {"orient": "bottom", "offset": -60, "values": [415, 435, 455, 475, 495, 515, 535], "grid": false, "labelPadding": 8, "title": "Wavelength(nm)", "titleFontSize": 14, "titleColor": "#333", "titleX": 359, "titleY": 46, "titleBaseline": "middle", "titleAlign": "center"}},
               "y": {"field": "t", "type": "quantitative", "scale": {"domain": [0, 100], "range": [430, 48], "nice": false, "zero": false}, "axis": {"orient": "left", "offset": -74, "values": [0, 10, 20, 30, 40, 50, 60, 70, 80, 90, 100], "grid": true, "labelPadding": 7, "title": "Transmittance (%)", "titleFontSize": 16, "titleColor": "#666", "titleX": -56, "titleBaseline": "middle"}},
               "color": {"field": "s", "type": "nominal", "scale": {"domain": ["EX 440/20", "EM 480/30", "DM 460"], "range": ["#e3211c", "#3b1fd3", "#1f9c5a"]}, "legend": {"legendX": 629, "legendY": 177}}
             }},
            {"mark": {"type": "point", "opacity": 0},
             "encoding": {
               "x": {"field": "wl", "type": "quantitative", "scale": {"domain": [415, 535], "range": [74, 620], "nice": false, "zero": false}, "axis": {"orient": "top", "offset": -48, "values": [435, 455, 475, 495, 515], "labels": false, "grid": true, "title": null}},
               "y": {"field": "t", "type": "quantitative", "scale": {"domain": [0, 100], "range": [430, 48], "nice": false, "zero": false}, "axis": {"orient": "right", "offset": -121, "labels": false, "grid": false, "title": null}}
             }}
          ]
        }
      ],
      "spacing": 3, "bounds": "flush", "resolve": {"scale": {"color": "independent"}, "legend": {"color": "independent"}}
    },
    {
      "hconcat": [
        {"width": 136, "height": 490, "view": {"fill": "white", "stroke": null}, "data": {"values": [{"k": "a", "m": "30032"}]}, "mark": {"type": "text", "font": "Noto Sans CJK JP", "fontWeight": "bold", "fontSize": 29, "align": "center", "baseline": "middle", "dy": -1, "color": "black"}, "encoding": {"x": {"field": "k", "type": "nominal", "axis": null}, "y": {"field": "k", "type": "nominal", "axis": null}, "text": {"field": "m"}}},
        {"width": 331, "height": 490, "view": {"fill": "white", "stroke": null}, "data": {"values": [{"k": "a", "l": ["FISH Green", "Excitation 490/20", "Dichroic DM505", "Emission 530/25"]}]}, "mark": {"type": "text", "font": "Noto Sans CJK JP", "fontWeight": "bold", "fontSize": 29.5, "lineHeight": 48.3, "align": "left", "baseline": "middle", "x": 0, "dx": 6, "dy": -75, "color": "black"}, "encoding": {"y": {"field": "k", "type": "nominal", "axis": null}, "text": {"field": "l"}}},
        {
          "width": 741, "height": 490, "view": {"fill": "white", "stroke": null},
          "title": {"text": "PN 30032 FISH-Green", "offset": -20, "dx": -21},
          "data": {"name": "c3"},
          "resolve": {"axis": {"x": "independent", "y": "independent"}},
          "layer": [
            {"mark": {"type": "line", "strokeWidth": 2, "interpolate": "monotone"},
             "encoding": {
               "x": {"field": "wl", "type": "quantitative", "scale": {"domain": [460, 610], "range": [75, 622], "nice": false, "zero": false}, "axis": {"orient": "bottom", "offset": -63, "values": [460, 485, 510, 535, 560, 585, 610], "grid": false, "labelPadding": 8, "title": "Wavelength(nm)", "titleFontSize": 14, "titleColor": "#333", "titleX": 361, "titleY": 46, "titleBaseline": "middle", "titleAlign": "center"}},
               "y": {"field": "t", "type": "quantitative", "scale": {"domain": [0, 100], "range": [427, 46], "nice": false, "zero": false}, "axis": {"orient": "left", "offset": -75, "values": [0, 10, 20, 30, 40, 50, 60, 70, 80, 90, 100], "grid": true, "labelPadding": 7, "title": "Transmittance (%)", "titleFontSize": 16, "titleColor": "#666", "titleX": -55, "titleBaseline": "middle"}},
               "color": {"field": "s", "type": "nominal", "scale": {"domain": ["EX 490/20", "EM 530/25", "DM 505"], "range": ["#e3211c", "#3b1fd3", "#1f9c5a"]}, "legend": {"legendX": 630, "legendY": 175}}
             }},
            {"mark": {"type": "point", "opacity": 0},
             "encoding": {
               "x": {"field": "wl", "type": "quantitative", "scale": {"domain": [460, 610], "range": [75, 622], "nice": false, "zero": false}, "axis": {"orient": "top", "offset": -46, "values": [485, 510, 535, 560, 585], "labels": false, "grid": true, "title": null}},
               "y": {"field": "t", "type": "quantitative", "scale": {"domain": [0, 100], "range": [427, 46], "nice": false, "zero": false}, "axis": {"orient": "right", "offset": -119, "labels": false, "grid": false, "title": null}}
             }}
          ]
        }
      ],
      "spacing": 3, "bounds": "flush", "resolve": {"scale": {"color": "independent"}, "legend": {"color": "independent"}}
    },
    {
      "hconcat": [
        {"width": 136, "height": 487, "view": {"fill": "white", "stroke": null}, "data": {"values": [{"k": "a", "m": "30033"}]}, "mark": {"type": "text", "font": "Noto Sans CJK JP", "fontWeight": "bold", "fontSize": 29, "align": "center", "baseline": "middle", "dy": -1, "color": "black"}, "encoding": {"x": {"field": "k", "type": "nominal", "axis": null}, "y": {"field": "k", "type": "nominal", "axis": null}, "text": {"field": "m"}}},
        {"width": 331, "height": 487, "view": {"fill": "white", "stroke": null}, "data": {"values": [{"k": "a", "l": ["FISH Orange", "Excitation 540/20", "Dichroic DM562", "Emission 590/25"]}]}, "mark": {"type": "text", "font": "Noto Sans CJK JP", "fontWeight": "bold", "fontSize": 29.5, "lineHeight": 48.3, "align": "left", "baseline": "middle", "x": 0, "dx": 6, "dy": -75, "color": "black"}, "encoding": {"y": {"field": "k", "type": "nominal", "axis": null}, "text": {"field": "l"}}},
        {
          "width": 741, "height": 487, "view": {"fill": "white", "stroke": null},
          "title": {"text": "PN 30033 FISH-Orange", "offset": -21, "dx": -16},
          "data": {"name": "c4"},
          "resolve": {"axis": {"x": "independent", "y": "independent"}},
          "layer": [
            {"mark": {"type": "line", "strokeWidth": 2, "interpolate": "monotone"},
             "encoding": {
               "x": {"field": "wl", "type": "quantitative", "scale": {"domain": [500, 650], "range": [74, 624], "nice": false, "zero": false}, "axis": {"orient": "bottom", "offset": -61, "values": [500, 525, 550, 575, 600, 625, 650], "grid": false, "labelPadding": 8, "title": "Wavelength(nm)", "titleFontSize": 14, "titleColor": "#333", "titleX": 362, "titleY": 45, "titleBaseline": "middle", "titleAlign": "center"}},
               "y": {"field": "t", "type": "quantitative", "scale": {"domain": [0, 100], "range": [426, 46], "nice": false, "zero": false}, "axis": {"orient": "left", "offset": -74, "values": [0, 10, 20, 30, 40, 50, 60, 70, 80, 90, 100], "grid": true, "labelPadding": 7, "title": "Transmittance (%)", "titleFontSize": 16, "titleColor": "#666", "titleX": -55, "titleBaseline": "middle"}},
               "color": {"field": "s", "type": "nominal", "scale": {"domain": ["EX 540/20", "EM 590/25", "DM 562"], "range": ["#e3211c", "#3b1fd3", "#1f9c5a"]}, "legend": {"legendX": 633, "legendY": 175}}
             }},
            {"mark": {"type": "point", "opacity": 0},
             "encoding": {
               "x": {"field": "wl", "type": "quantitative", "scale": {"domain": [500, 650], "range": [74, 624], "nice": false, "zero": false}, "axis": {"orient": "top", "offset": -46, "values": [525, 550, 575, 600, 625], "labels": false, "grid": true, "title": null}},
               "y": {"field": "t", "type": "quantitative", "scale": {"domain": [0, 100], "range": [426, 46], "nice": false, "zero": false}, "axis": {"orient": "right", "offset": -117, "labels": false, "grid": false, "title": null}}
             }}
          ]
        }
      ],
      "spacing": 3, "bounds": "flush", "resolve": {"scale": {"color": "independent"}, "legend": {"color": "independent"}}
    }
  ],
  "spacing": 3, "resolve": {"scale": {"color": "independent"}, "legend": {"color": "independent"}}
}
]
}
